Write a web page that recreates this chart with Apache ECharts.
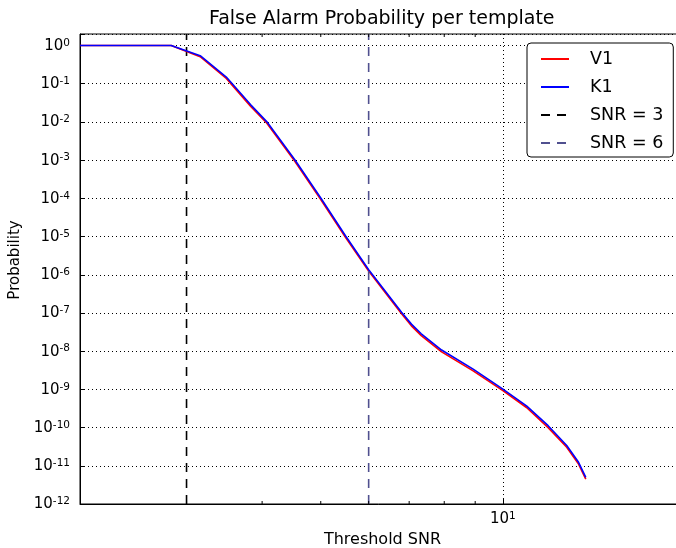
<!DOCTYPE html>
<html>
<head>
<meta charset="utf-8">
<script src="https://cdn.jsdelivr.net/npm/echarts@6/dist/echarts.min.js"></script>
<style>
html,body{margin:0;padding:0;background:#fff;}
#chart{width:676px;height:548px;}
</style>
</head>
<body>
<div id="chart"></div>
<script>
// ---- data ----
var snr = [2.0, 2.83, 3.16, 3.49, 3.83, 4.07, 4.53, 5.0, 5.5, 6.0, 6.8, 7.06, 7.33, 7.92, 8.93, 10.0, 10.94, 11.88, 12.75, 13.32, 13.71];
var probV1 = [1.0, 1.0, 0.51, 0.138, 0.0255, 0.0094, 9.3e-4, 9.3e-5, 9.3e-6, 1.25e-6, 9.5e-8, 4.6e-8, 2.55e-8, 9.6e-9, 3.05e-9, 9.3e-10, 3.35e-10, 1.0e-10, 3.05e-11, 1.15e-11, 4.5e-12];
var probK1 = [1.0, 1.0, 0.54, 0.149, 0.028, 0.0102, 1.02e-3, 1.02e-4, 1.02e-5, 1.35e-6, 1.05e-7, 5.1e-8, 2.85e-8, 1.07e-8, 3.4e-9, 1.02e-9, 3.7e-10, 1.12e-10, 3.4e-11, 1.28e-11, 5.0e-12];
var thresholds = [3, 6];
var xRange = [2, 20];
var yRange = [1e-12, 2];
var xMinorTicks = [3, 4, 5, 6, 7, 8, 9];
var seriesNames = ['V1', 'K1', 'SNR = 3', 'SNR = 6'];

var FONT = 'DejaVu Sans';
function zip(xs, ys) { return xs.map(function (x, i) { return [x, ys[i]]; }); }
function vline(x) { return [[x, yRange[0]], [x, yRange[1]]]; }
function powFmt(v) {
  var e = Math.log10(v);
  var r = Math.round(e);
  if (Math.abs(e - r) > 1e-6) return '';
  return '{b|10}{s|' + r + '}';
}
var richLabel = {
  b: { fontFamily: FONT, fontSize: 15, color: '#000', lineHeight: 16, padding: [4, 0, 0, 0], verticalAlign: 'bottom' },
  s: { fontFamily: FONT, fontSize: 10.5, color: '#000', lineHeight: 12, verticalAlign: 'top' }
};

var chart = echarts.init(document.getElementById('chart'), null, { renderer: 'canvas' });
chart.setOption({
  animation: false,
  backgroundColor: '#fff',
  title: {
    text: 'False Alarm Probability per template',
    left: 209, top: 10, padding: 0,
    textStyle: { fontFamily: FONT, fontSize: 19, fontWeight: 'normal', color: '#000' }
  },
  grid: {
    left: 80, top: 34, width: 605, height: 470,
    show: true, borderColor: '#000', borderWidth: 1,
    containLabel: false, outerBoundsMode: 'none'
  },
  legend: {
    data: seriesNames,
    orient: 'vertical',
    left: 527, top: 43,
    padding: [6, 10, 4, 13],
    itemWidth: 28, itemHeight: 14, itemGap: 8,
    backgroundColor: '#fff',
    borderColor: '#000', borderWidth: 1, borderRadius: 4,
    itemStyle: { opacity: 0 },
    textStyle: { fontFamily: FONT, fontSize: 17.5, color: '#000', lineHeight: 20, padding: [0, 0, 0, 16] }
  },
  xAxis: {
    type: 'log', min: xRange[0], max: xRange[1], logBase: 10,
    name: 'Threshold SNR', nameLocation: 'middle', nameGap: 28,
    nameTextStyle: { fontFamily: FONT, fontSize: 16, color: '#000', verticalAlign: 'top' },
    axisLine: { show: true, lineStyle: { color: '#000', width: 1 } },
    axisTick: { show: true, inside: true, length: 5, lineStyle: { color: '#000' } },
    minorTick: { show: false },
    splitLine: { show: true, lineStyle: { color: '#000', type: [1, 3], width: 1 } },
    axisLabel: { margin: 7, formatter: powFmt, rich: richLabel }
  },
  yAxis: {
    type: 'log', min: yRange[0], max: yRange[1], logBase: 10, splitNumber: 12, interval: 1,
    name: 'Probability', nameLocation: 'middle', nameGap: 55, nameRotate: 90,
    nameTextStyle: { fontFamily: FONT, fontSize: 15, color: '#000', padding: [0, 0, 0, 18] },
    axisLine: { show: true, lineStyle: { color: '#000', width: 1 } },
    axisTick: { show: true, inside: true, length: 5, lineStyle: { color: '#000' } },
    minorTick: { show: false },
    splitLine: { show: true, lineStyle: { color: '#000', type: [1, 3], width: 1 } },
    axisLabel: { margin: 10, formatter: powFmt, rich: richLabel }
  },
  series: [
    {
      name: 'V1', type: 'line', data: zip(snr, probV1), symbol: 'none',
      lineStyle: { color: '#ff0000', width: 1.6 }, itemStyle: { color: '#ff0000' }, z: 3
    },
    {
      name: 'K1', type: 'line', data: zip(snr, probK1), symbol: 'none',
      lineStyle: { color: '#0000ff', width: 1.6 }, itemStyle: { color: '#0000ff' }, z: 4
    },
    {
      name: 'SNR = 3', type: 'line', data: vline(thresholds[0]), symbol: 'none',
      lineStyle: { color: '#000000', width: 1.6, type: [9, 7] }, itemStyle: { color: '#000000' }, z: 2
    },
    {
      name: 'SNR = 6', type: 'line', data: vline(thresholds[1]), symbol: 'none',
      lineStyle: { color: '#50508f', width: 1.6, type: [9, 7] }, itemStyle: { color: '#50508f' }, z: 5
    },
    {
      name: 'minorTicks', type: 'custom', silent: true, z: 6,
      data: xMinorTicks.map(function (v) { return [v, yRange[0]]; }),
      renderItem: function (params, api) {
        var x = api.value(0);
        var pb = api.coord([x, yRange[0]]);
        var pt = api.coord([x, yRange[1]]);
        var st = { stroke: '#000', lineWidth: 1 };
        return {
          type: 'group',
          children: [
            { type: 'line', shape: { x1: pb[0], y1: pb[1], x2: pb[0], y2: pb[1] - 3 }, style: st },
            { type: 'line', shape: { x1: pt[0], y1: pt[1], x2: pt[0], y2: pt[1] + 3 }, style: st }
          ]
        };
      }
    }
  ]
});
</script>
</body>
</html>
